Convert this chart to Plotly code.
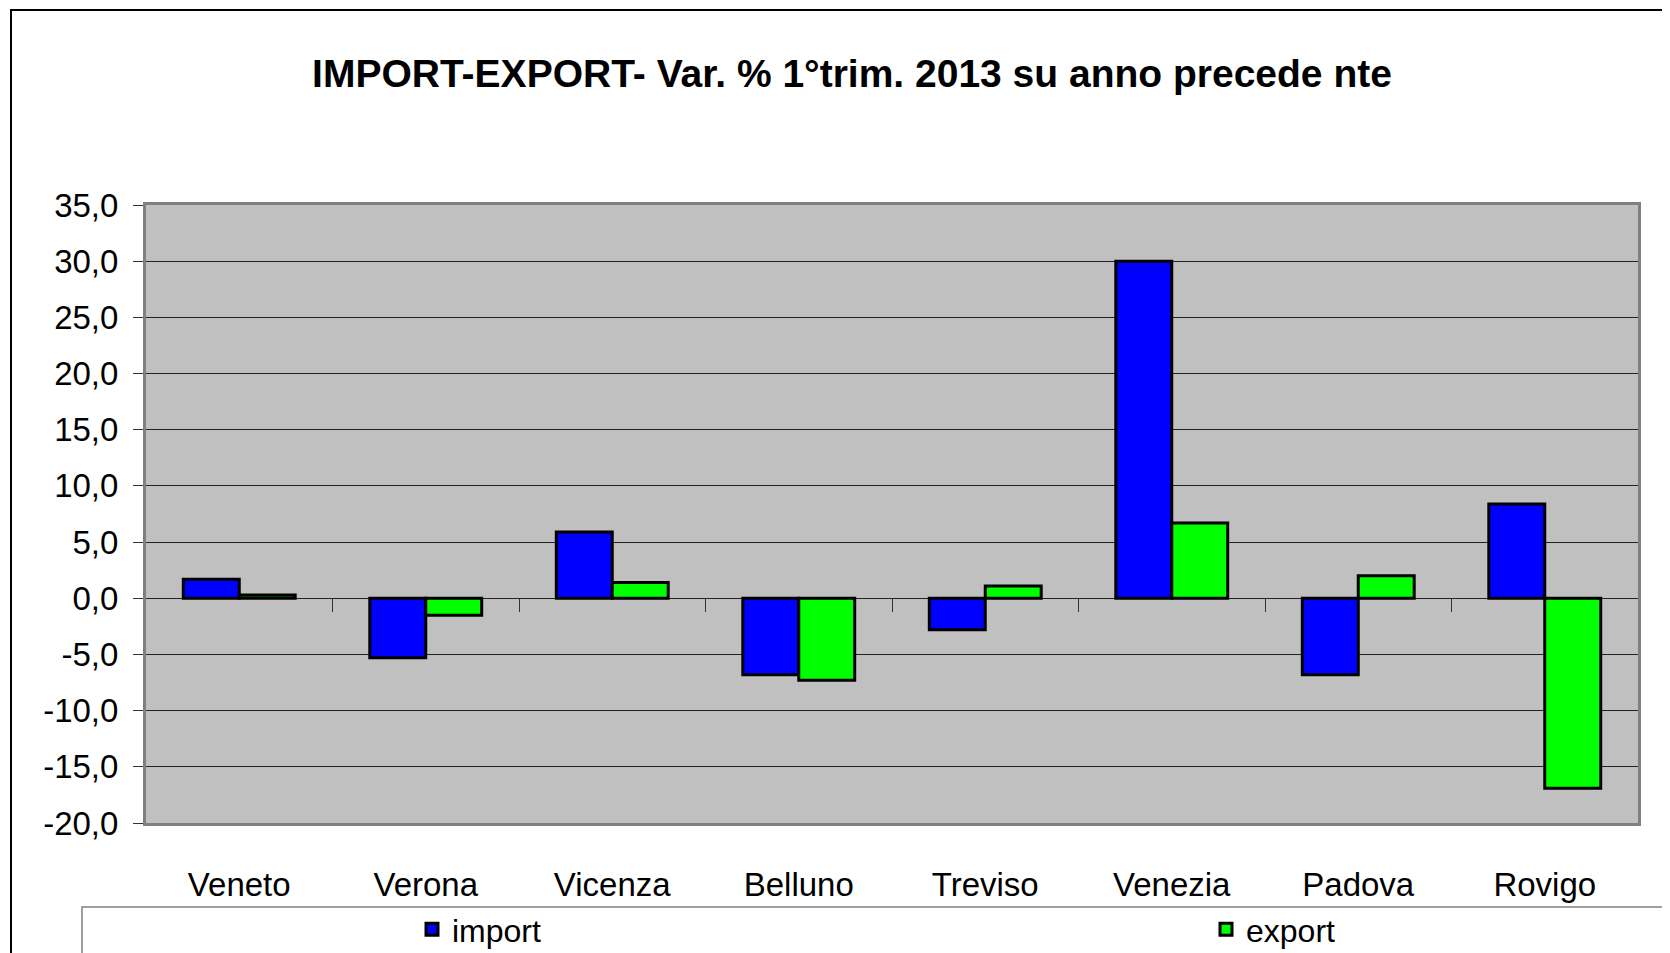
import plotly.graph_objects as go

categories = ["Veneto", "Verona", "Vicenza", "Belluno", "Treviso", "Venezia", "Padova", "Rovigo"]
import_vals = [1.7, -5.3, 5.9, -6.8, -2.8, 30.0, -6.8, 8.4]
export_vals = [0.3, -1.5, 1.4, -7.3, 1.1, 6.7, 2.0, -16.9]
y_ticks = [35, 30, 25, 20, 15, 10, 5, 0, -5, -10, -15, -20]
y_ticktext = [f"{v:.1f}".replace(".", ",") for v in y_ticks]
title_text = "IMPORT-EXPORT- Var. % 1°trim. 2013 su anno precede nte"

OFF = 8  # page body margin
W, H = 1670 - OFF, 953 - OFF
# reference plot area in page pixels: left 146, right 1638, top 205, bottom 823
L, R, T, B = 146 - OFF, 1670 - 1638, 205 - OFF, 953 - 823
pw, ph = W - L - R, H - T - B
ymin, ymax = -20, 35

def px_x(p):  # page pixel -> paper
    return (p - OFF - L) / pw

def px_y(p):
    return (H - B - (p - OFF)) / ph

fig = go.Figure()
fig.add_trace(go.Bar(x=categories, y=import_vals, name="import", legend="legend",
                     marker=dict(color="#0000FF", line=dict(color="black", width=3))))
fig.add_trace(go.Bar(x=categories, y=export_vals, name="export", legend="legend2",
                     marker=dict(color="#00FF00", line=dict(color="black", width=3))))

boundaries = [i + 0.5 for i in range(len(categories) - 1)]

legend_common = dict(orientation="h", xanchor="left", y=px_y(902), yanchor="top",
                     bgcolor="rgba(0,0,0,0)", font=dict(size=32))

fig.update_layout(
    width=W, height=H,
    margin=dict(l=L, r=R, t=T, b=B, autoexpand=False),
    paper_bgcolor="white", plot_bgcolor="#C0C0C0",
    barmode="group", bargap=0.40, bargroupgap=0,
    font=dict(family="Liberation Sans, Arial, sans-serif", color="black"),
    title=dict(text="<b>" + title_text + "</b>", x=(852 - OFF) / W, xref="container", xanchor="center",
               y=1 - (73 - OFF) / H, yref="container", yanchor="middle",
               font=dict(family="Liberation Sans, Arial, sans-serif", size=39, color="black")),
    xaxis=dict(type="category", categoryarray=categories, range=[-0.5, len(categories) - 0.5],
               showgrid=False, zeroline=False, ticks="", showline=True, mirror=True,
               linecolor="#808080", linewidth=3, ticklabelstandoff=30,
               tickfont=dict(size=33)),
    xaxis2=dict(overlaying="x", anchor="free", position=(0 - ymin) / (ymax - ymin),
                range=[-0.5, len(categories) - 0.5], showgrid=False, zeroline=False,
                showticklabels=False, ticks="outside", ticklen=13, tickwidth=1, tickcolor="#333",
                tickmode="array", tickvals=boundaries, showline=False),
    yaxis=dict(range=[ymin, ymax], tickmode="array", tickvals=y_ticks, ticktext=y_ticktext,
               showgrid=True, gridcolor="#222", gridwidth=1, zeroline=True, zerolinecolor="#222",
               zerolinewidth=1, showline=True, mirror=True, linecolor="#808080", linewidth=3,
               ticks="outside", ticklen=10, tickcolor="#333", tickwidth=1,
               ticklabelstandoff=8, tickfont=dict(size=33)),
    legend=dict(x=px_x(412), **legend_common),
    legend2=dict(x=px_x(1206), **legend_common),
    showlegend=True,
)

# invisible trace to activate xaxis2
fig.add_trace(go.Scatter(x=[0], y=[0], xaxis="x2", mode="markers", marker=dict(opacity=0),
                         showlegend=False, hoverinfo="skip"))

# outer chart border and legend box
fig.add_shape(type="rect", xref="paper", yref="paper", x0=px_x(11), x1=px_x(1700),
              y0=px_y(1000), y1=px_y(10), line=dict(color="black", width=2), fillcolor="rgba(0,0,0,0)", layer="below")
fig.add_shape(type="rect", xref="paper", yref="paper", x0=px_x(82), x1=px_x(1700),
              y0=px_y(1000), y1=px_y(907), line=dict(color="#808080", width=1.5), fillcolor="white", layer="below")

fig.add_annotation(text="<b>M</b>", xref="paper", yref="paper", x=px_x(871), y=px_y(13),
                   yanchor="bottom", showarrow=False, font=dict(size=12))

fig.write_html("out.html")
